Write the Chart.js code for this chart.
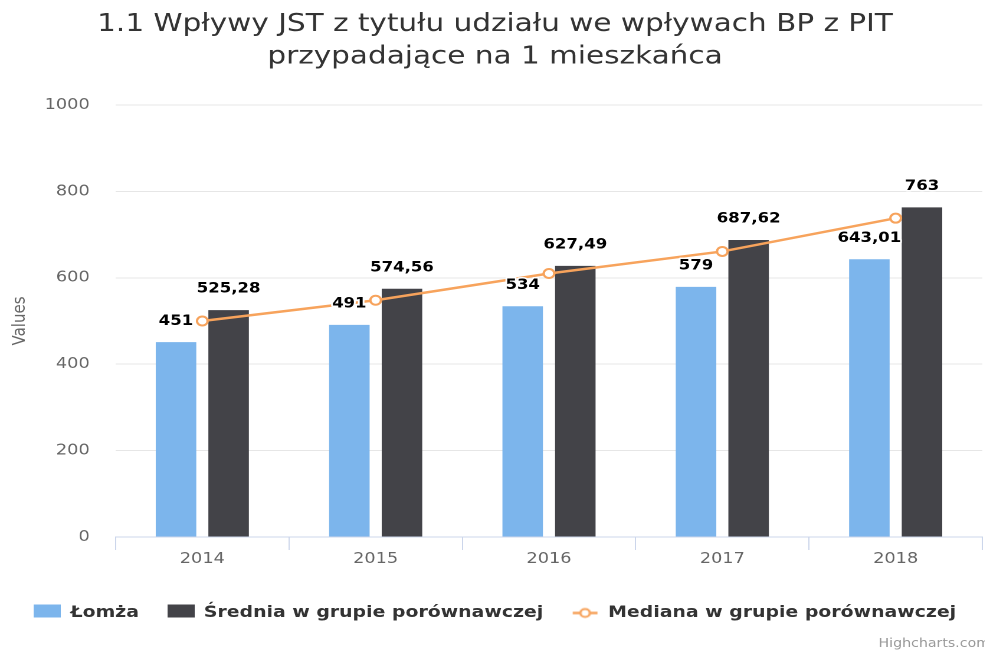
<!DOCTYPE html>
<html lang="pl">
<head>
<meta charset="utf-8">
<title>Wpływy JST z tytułu udziału we wpływach BP z PIT</title>
<script src="https://cdn.jsdelivr.net/npm/chart.js@4/dist/chart.umd.min.js"></script>
<style>
    html, body { margin: 0; padding: 0; background: #fff; overflow: hidden; }
    #chart { display: block; }
</style>
</head>
<body>
<!-- drawn at 839 logical px and stretched to 990 css px, the reference is widened the same way -->
<canvas id="chart" width="839" height="653" style="width:990px;height:653px"></canvas>
<script>
/* ========== data ========== */

const years = ['2014', '2015', '2016', '2017', '2018'];
const lomza = [451, 491, 534, 579, 643.01];
const srednia = [525.28, 574.56, 627.49, 687.62, 763];
const mediana = [500, 548, 610, 661, 738];
const yTicks = [0, 200, 400, 600, 800, 1000];

const titleLines = ['1.1 Wpływy JST z tytułu udziału we wpływach BP z PIT', 'przypadające na 1 mieszkańca'];
const seriesNames = ['Łomża', 'Średnia w grupie porównawczej', 'Mediana w grupie porównawczej'];

const palette = {
    blue: '#7cb5ec',
    dark: '#434348',
    orange: '#f7a35c',
    text: '#333333',
    axisText: '#666666',
    grid: '#e6e6e6',
    axis: '#ccd6eb',
};

Chart.defaults.font.family = '"DejaVu Sans", sans-serif';

function formatPl(v) {
    return String(v).replace('.', ',');
}

// legend symbols, highcharts style
function boxIcon(color) {
    const c = document.createElement('canvas');
    c.width = 23;
    c.height = 17;
    const g = c.getContext('2d');
    g.fillStyle = color;
    g.fillRect(0, 0, 23, 13);
    return c;
}

function lineIcon(color) {
    const c = document.createElement('canvas');
    c.width = 23;
    c.height = 17;
    const g = c.getContext('2d');
    g.strokeStyle = color;
    g.lineWidth = 2.5;
    g.beginPath();
    g.moveTo(1, 8.5);
    g.lineTo(22, 8.5);
    g.stroke();
    g.beginPath();
    g.arc(11.5, 8.5, 4, 0, Math.PI * 2);
    g.fillStyle = '#fff';
    g.fill();
    g.lineWidth = 2;
    g.stroke();
    return c;
}

const legendIcons = [boxIcon(palette.blue), boxIcon(palette.dark), lineIcon(palette.orange)];

const barLabels = {
    id: 'barLabels',
    afterDatasetsDraw(chart) {
        const ctx = chart.ctx;
        ctx.save();
        ctx.font = 'bold 14px "DejaVu Sans", sans-serif';
        ctx.textAlign = 'center';
        ctx.textBaseline = 'middle';
        ctx.lineJoin = 'round';
        ctx.lineWidth = 3;
        ctx.strokeStyle = '#ffffff';
        ctx.fillStyle = '#000000';
        [0, 1].forEach(i => {
            const meta = chart.getDatasetMeta(i);
            const values = chart.data.datasets[i].data;
            meta.data.forEach((bar, j) => {
                const txt = formatPl(values[j]);
                ctx.strokeText(txt, bar.x, bar.y - 21);
                ctx.fillText(txt, bar.x, bar.y - 21);
            });
        });
        ctx.restore();
    },
};

const credits = {
    id: 'credits',
    afterDraw(chart) {
        const ctx = chart.ctx;
        ctx.save();
        ctx.font = '12px "DejaVu Sans", sans-serif';
        ctx.fillStyle = '#999999';
        ctx.textAlign = 'right';
        ctx.textBaseline = 'middle';
        ctx.fillText('Highcharts.com', 839, 644);
        ctx.restore();
    },
};

new Chart(document.getElementById('chart'), {
    type: 'bar',
    data: {
        labels: years,
        datasets: [
            {
                label: seriesNames[0],
                data: lomza,
                backgroundColor: palette.blue,
                categoryPercentage: 0.607,
                barPercentage: 0.77,
                order: 1,
            },
            {
                label: seriesNames[1],
                data: srednia,
                backgroundColor: palette.dark,
                categoryPercentage: 0.607,
                barPercentage: 0.77,
                order: 1,
            },
            {
                label: seriesNames[2],
                type: 'line',
                data: mediana,
                borderColor: palette.orange,
                borderWidth: 2.5,
                pointRadius: 4.5,
                pointBorderWidth: 2,
                pointBackgroundColor: '#ffffff',
                pointBorderColor: palette.orange,
                tension: 0,
                order: 0,
            },
        ],
    },
    options: {
        responsive: false,
        devicePixelRatio: 2,
        animation: false,
        events: [],
        layout: { padding: { left: 0, right: 0, top: 0, bottom: 22 } },
        plugins: {
            title: {
                display: true,
                text: titleLines,
                color: palette.text,
                font: { size: 25, weight: 'normal', lineHeight: 1.3 },
                padding: { top: 8, bottom: 32 },
            },
            legend: {
                position: 'bottom',
                labels: {
                    color: palette.text,
                    font: { size: 16, weight: 'bold' },
                    usePointStyle: true,
                    pointStyleWidth: 23,
                    boxHeight: 13,
                    padding: 24,
                    sort: (a, b) => a.datasetIndex - b.datasetIndex,
                    generateLabels(chart) {
                        const items = Chart.defaults.plugins.legend.labels.generateLabels(chart);
                        return items.map(it => ({ ...it, pointStyle: legendIcons[it.datasetIndex], rotation: 0 }));
                    },
                },
            },
            tooltip: { enabled: false },
        },
        scales: {
            x: {
                grid: { drawOnChartArea: false, drawTicks: true, tickLength: 13, color: palette.axis },
                border: { display: true, color: palette.axis, width: 1 },
                ticks: { color: palette.axisText, font: { size: 15 }, padding: 0 },
                afterFit(scale) { scale.height = 44; },
            },
            y: {
                min: yTicks[0],
                max: yTicks[yTicks.length - 1],
                ticks: {
                    stepSize: yTicks[1] - yTicks[0],
                    color: palette.axisText,
                    font: { size: 15 },
                    padding: 22,
                    callback: v => String(v),
                },
                grid: { color: palette.grid, drawTicks: false },
                border: { display: false },
                title: { display: true, text: 'Values', color: palette.axisText, font: { size: 15 }, padding: { top: 8, bottom: 0 } },
                afterFit(scale) { scale.width = 98; },
            },
        },
    },
    plugins: [barLabels, credits],
});
</script>
</body>
</html>
